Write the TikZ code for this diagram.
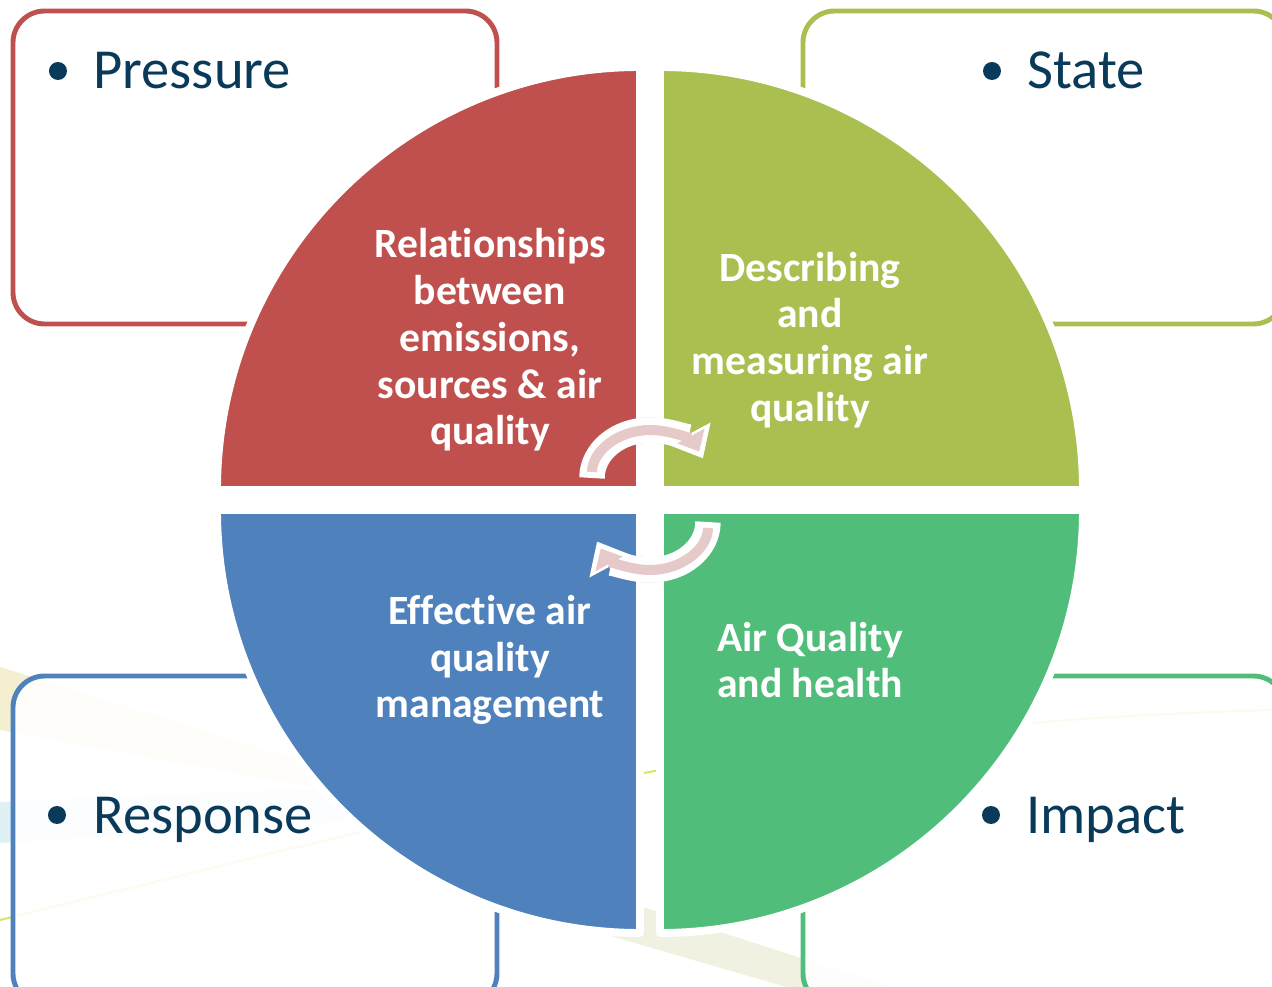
\documentclass[tikz,border=0pt]{standalone}
\usepackage{fontspec}
\setmainfont{Carlito}[Ligatures=CommonOff]
\usetikzlibrary{arrows.meta}
\usetikzlibrary{shadows}
\definecolor{pressred}{HTML}{C0504D}
\definecolor{stateolive}{HTML}{A9C050}
\definecolor{respblue}{HTML}{4F81BD}
\definecolor{impgreen}{HTML}{50BE7A}
\definecolor{navy}{HTML}{0A3A5A}
\definecolor{cyclepink}{HTML}{E6CACA}
\definecolor{streakyellow}{HTML}{F3EBC6}
\definecolor{streakblue}{HTML}{D3EBF2}
\definecolor{streaklime}{HTML}{C4D300}
\definecolor{streakbeige}{HTML}{EEEDDA}

\begin{document}
\begin{tikzpicture}[x=0.02cm,y=0.02cm]
\tikzset{dpsr/.style = {rounded corners=18pt, line width=2.8pt, fill=white, fill opacity=0.9}}
\tikzset{quarter/.style = {draw=white, line width=4.5pt, line join=round, drop shadow={shadow xshift=1.2pt, shadow yshift=-1.2pt, opacity=0.3}}}
\tikzset{qtext/.style = {text=white, align=center, font=\fontsize{23.7}{26.6}\selectfont\bfseries}}
\tikzset{bull/.style = {circle, fill=navy, inner sep=0, minimum size=0.36cm}}
\tikzset{tagtext/.style = {anchor=base west, inner sep=0, text=navy, font=\fontsize{32.2}{38}\selectfont}}
\tikzset{cycshade/.style = {black, opacity=0.15, line width=14.5pt, shift={(2,-3)}, -{Triangle[width=26pt,length=16pt]}}}
\tikzset{cyc/.style = {white, line width=14.5pt, -{Triangle[width=26pt,length=16pt]}}}
\tikzset{cycin/.style = {cyclepink, line width=5.7pt, shorten <=3.4pt, shorten >=4.5pt, -{Triangle[width=17pt,length=10pt]}}}
\useasboundingbox (-650,-487) rectangle (622,500);
\clip (-650,-487) rectangle (622,500);

% background streaks
\fill[streakyellow, opacity=0.8] (-650,-167) -- (-320,-270) -- (-320,-290) -- (-650,-230) -- cycle;
\fill[streakblue, opacity=0.7] (-650,-302) -- (-7,-275) -- (-7,-302) -- (-650,-343) -- cycle;
\fill[streakbeige, opacity=0.8] (-60,-390) -- (250,-490) -- (250,-520) -- (-60,-430) -- cycle;
\draw[streaklime, line width=1.2pt, opacity=0.6] (-650,-420) .. controls (-200,-310) and (100,-225) .. (622,-210);

% outer boxes
\draw[dpsr, draw=pressred] (-637,176) rectangle (-153,489);
\draw[dpsr, draw=stateolive] (153,176) rectangle (635,489);
\draw[dpsr, draw=respblue] (-637,-176) rectangle (-153,-505);
\draw[dpsr, draw=impgreen] (153,-176) rectangle (635,-505);

% quarters
\filldraw[quarter, fill=pressred] (-10,10) -- ++(-423,0) arc[start angle=180, end angle=90, radius=423] -- cycle;
\filldraw[quarter, fill=stateolive] (10,10) -- ++(0,423) arc[start angle=90, end angle=0, radius=423] -- cycle;
\filldraw[quarter, fill=respblue] (-10,-10) -- ++(0,-423) arc[start angle=270, end angle=180, radius=423] -- cycle;
\filldraw[quarter, fill=impgreen] (10,-10) -- ++(423,0) arc[start angle=0, end angle=-90, radius=423] -- cycle;

\node[qtext] (pressure) at (-160,160) {Relationships\\between\\emissions,\\sources \& air\\quality};
\node[qtext] (state) at (160,160) {Describing\\and\\measuring air\\quality};
\node[qtext] (response) at (-160,-160) {Effective air\\quality\\management};
\node[qtext] (impact) at (160,-160) {Air Quality\\and health};

% bullets
\node[bull] (pb) at (-592,429) {};
\node[tagtext] (pt) at (-557,411) {Pressure};
\node[bull] (sb) at (342,429) {};
\node[tagtext] (st) at (377,411) {State};
\node[bull] (rb) at (-593,-315) {};
\node[tagtext] (rt) at (-557,-333) {Response};
\node[bull] (ib) at (341,-315) {};
\node[tagtext] (it) at (376,-333) {Impact};

% cycle arrows
\coordinate (ua) at (-58,22);
\coordinate (la) at (58,-22);
\draw[cycshade] (ua) arc[start angle=180, end angle=24, x radius=58, y radius=48];
\draw[cycshade] (la) arc[start angle=0, end angle=-156, x radius=58, y radius=48];
\draw[cyc] (ua) arc[start angle=180, end angle=24, x radius=58, y radius=48];
\draw[cycin] (ua) arc[start angle=180, end angle=24, x radius=58, y radius=48];
\draw[cyc] (la) arc[start angle=0, end angle=-156, x radius=58, y radius=48];
\draw[cycin] (la) arc[start angle=0, end angle=-156, x radius=58, y radius=48];

\end{tikzpicture}
\end{document}
